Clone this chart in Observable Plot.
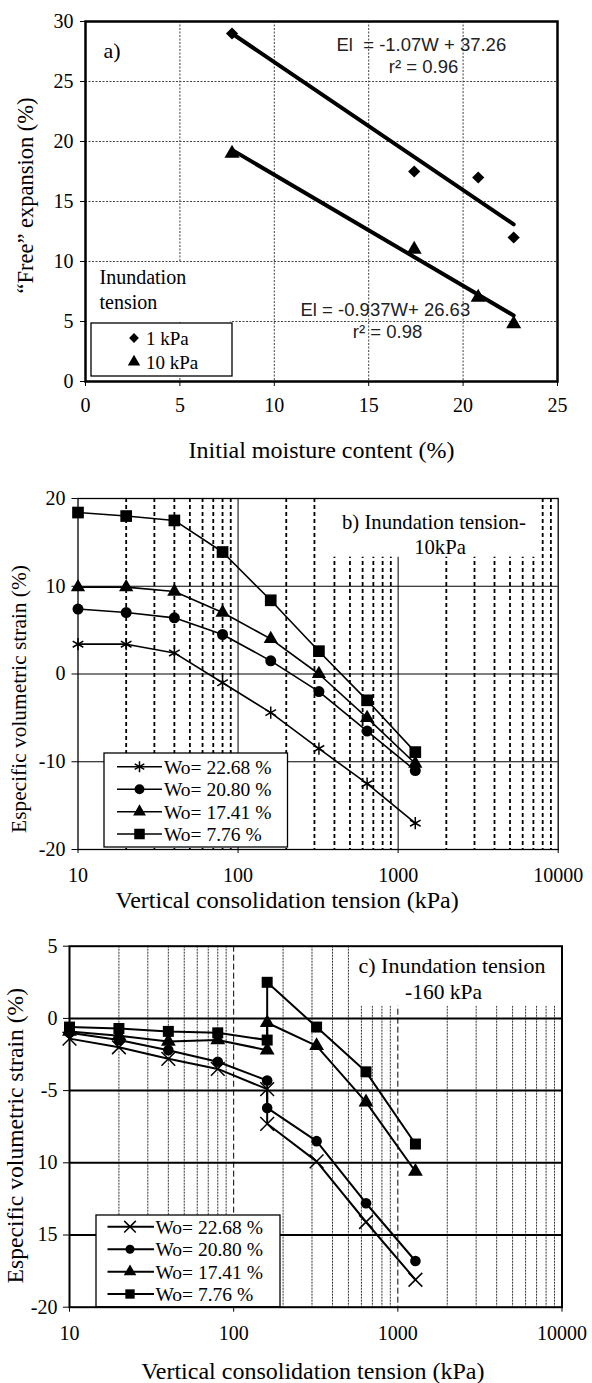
<!DOCTYPE html>
<html><head><meta charset="utf-8">
<script src="https://cdn.jsdelivr.net/npm/d3@7"></script>
<script src="https://cdn.jsdelivr.net/npm/@observablehq/plot@0.6"></script>
<style>
html,body{margin:0;padding:0;background:#fff;}
#chart{width:592px;}
#chart svg{display:block;font-family:'Liberation Serif','Times New Roman',serif;}
</style></head><body><div id="chart"></div>
<script>
// ---------- Panel a data ----------
const moisture = [7.76, 17.41, 20.80, 22.68];
const expansion1kPa = [29.0, 17.5, 17.0, 12.0];
const expansion10kPa = [19.0, 11.0, 7.0, 4.8];
const trendW = [7.76, 22.68];
const trend1kPa = [29.0, 13.1];
const trend10kPa = [19.3, 5.5];
const aXTicks = [0, 5, 10, 15, 20, 25];
const aYTicks = [0, 5, 10, 15, 20, 25, 30];
const aLegend = ["1 kPa", "10 kPa"];

// ---------- Panel b data ----------
const pressuresB = [10, 20, 40, 80, 160, 320, 640, 1280];
const b2268 = [3.4, 3.4, 2.4, -1.0, -4.4, -8.5, -12.5, -17.0];
const b2080 = [7.4, 7.0, 6.4, 4.5, 1.5, -2.0, -6.5, -11.0];
const b1741 = [9.9, 9.9, 9.4, 7.0, 4.0, 0.0, -5.0, -10.2];
const b776 = [18.4, 18.0, 17.5, 13.9, 8.4, 2.6, -3.0, -8.9];

// ---------- Panel c data ----------
const pressuresC = [10, 20, 40, 80, 160, 160, 320, 640, 1280];
const c2268 = [-1.4, -2.0, -2.8, -3.5, -4.9, -7.3, -9.9, -14.1, -18.1];
const c2080 = [-1.0, -1.5, -2.2, -3.0, -4.3, -6.2, -8.5, -12.8, -16.8];
const c1741 = [-0.9, -1.2, -1.6, -1.5, -2.2, -0.3, -1.9, -5.8, -10.6];
const c776 = [-0.6, -0.7, -0.9, -1.0, -1.5, 2.5, -0.6, -3.7, -8.7];

const seriesLabels = ["Wo= 22.68 %", "Wo= 20.80 %", "Wo= 17.41 %", "Wo= 7.76 %"];
const logTicks = [10, 100, 1000, 10000];
const logMajorGrid = [100, 1000];
const logMinorGrid = [20, 30, 40, 50, 60, 70, 80, 90, 200, 300, 400, 500, 600, 700, 800, 900,
  2000, 3000, 4000, 5000, 6000, 7000, 8000, 9000];
const bYTicks = [-20, -10, 0, 10, 20];
const bYGrid = [10, 0, -10];
const cYTicks = [5, 0, -5, -10, -15, -20];
const cYTickLabels = ["5", "0", "-5", "10", "15", "-20"];
const cYGrid = [0, -5, -10, -15];

// ---------- helpers ----------
const serif = "'Liberation Serif', 'Times New Roman', serif";
const sans = "'Liberation Sans', Arial, sans-serif";
const plotStyle = "font-family:'Liberation Serif','Times New Roman',serif;font-size:20px;background:#fff;color:#000;overflow:visible;";
const d3sym = {asterisk: d3.symbolAsterisk, times: d3.symbolTimes || d3.symbolX, circle: d3.symbolCircle,
  triangle: d3.symbolTriangle, square: d3.symbolSquare, diamond2: d3.symbolDiamond2};

// text placed relative to the frame's top-left corner
function note(str, dx, dy, o = {}) {
  return Plot.text([str], {frameAnchor: "top-left", dx, dy, lineAnchor: "middle",
    textAnchor: o.anchor || "start", fontSize: o.size || 20, fontFamily: o.font || serif, fill: o.fill || "#000"});
}
// white box relative to the frame's top-left corner
function whiteBox(x1, y1, x2, y2) {
  return (index, scales, values, dims) => d3.create("svg:rect")
    .attr("x", dims.marginLeft + x1).attr("y", dims.marginTop + y1)
    .attr("width", x2 - x1).attr("height", y2 - y1).attr("fill", "#fff").node();
}
function legendBox(box, items, o) {
  return (index, scales, values, dims) => {
    const g = d3.create("svg:g").attr("transform", `translate(${dims.marginLeft},${dims.marginTop})`);
    g.append("rect").attr("x", box[0]).attr("y", box[1]).attr("width", box[2] - box[0]).attr("height", box[3] - box[1])
      .attr("fill", "#fff").attr("stroke", "#000").attr("stroke-width", 1.3);
    items.forEach((it, i) => {
      const y = o.rows[i];
      if (o.line) g.append("line").attr("x1", o.line[0]).attr("x2", o.line[1]).attr("y1", y).attr("y2", y)
        .attr("stroke", "#000").attr("stroke-width", o.lw);
      g.append("path").attr("transform", `translate(${o.mx},${y})`)
        .attr("d", d3.symbol(d3sym[it.symbol], Math.PI * it.r * it.r)())
        .attr("fill", it.fill ? "#000" : "none").attr("stroke", it.fill ? "none" : "#000").attr("stroke-width", it.sw || 0);
      g.append("text").attr("x", o.tx).attr("y", y).attr("dy", "0.35em").attr("font-size", o.fs)
        .attr("text-anchor", "start").attr("font-family", serif).attr("fill", "#000").text(it.label);
    });
    return g.node();
  };
}
const rowsOf = (xs, ys) => xs.map((x, i) => ({x, y: ys[i]}));
const xLabel = (str, dx, dy, size) => Plot.text([str], {frameAnchor: "bottom", dx, dy, lineAnchor: "middle",
  textAnchor: "middle", fontSize: size, fontFamily: serif});
const yLabel = (str, dx, dy, size) => Plot.text([str], {frameAnchor: "left", dx, dy, rotate: -90, lineAnchor: "middle",
  textAnchor: "middle", fontSize: size, fontFamily: serif});

// ---------- Panel a ----------
const rows1 = rowsOf(moisture, expansion1kPa);
const rows10 = rowsOf(moisture, expansion10kPa);
const A = Plot.plot({
  width: 592, height: 468,
  marginLeft: 85, marginRight: 35, marginTop: 21, marginBottom: 87,
  style: plotStyle,
  x: {domain: [0, 25], axis: null, label: null},
  y: {domain: [0, 30], axis: null, label: null},
  marks: [
    Plot.gridX(aXTicks.slice(1, -1), {stroke: "#444", strokeOpacity: 1, strokeWidth: 1, strokeDasharray: "2,1.5"}),
    Plot.gridY(aYTicks.slice(1, -1), {stroke: "#444", strokeOpacity: 1, strokeWidth: 1, strokeDasharray: "2,1.5"}),
    whiteBox(1.5, 241, 145, 301),
    Plot.frame({stroke: "#000", strokeWidth: 2.5}),
    Plot.axisX(aXTicks, {tickSize: 5, tickPadding: 11.5, fontSize: 20, fontFamily: serif, label: null, tickFormat: d => String(d)}),
    Plot.axisY(aYTicks, {tickSize: 5, tickPadding: 7, fontSize: 20, fontFamily: serif, label: null, tickFormat: d => String(d)}),
    Plot.line(rowsOf(trendW, trend1kPa), {x: "x", y: "y", stroke: "#000", strokeWidth: 4}),
    Plot.line(rowsOf(trendW, trend10kPa), {x: "x", y: "y", stroke: "#000", strokeWidth: 4}),
    Plot.dot(rows1, {x: "x", y: "y", symbol: "diamond2", r: 5.5, fill: "#000", stroke: "none"}),
    Plot.dot(rows10, {x: "x", y: "y", symbol: "triangle", r: 5.6, fill: "#000", stroke: "none"}),
    note("a)", 18, 29, {size: 22}),
    note("El  = -1.07W + 37.26", 251, 24, {size: 18.5, font: sans, fill: "#222"}),
    note("r² = 0.96", 338, 46, {size: 18.5, font: sans, fill: "#222", anchor: "middle"}),
    note("El = -0.937W+ 26.63", 215, 289, {size: 18.5, font: sans, fill: "#222"}),
    note("r² = 0.98", 302, 311, {size: 18.5, font: sans, fill: "#222", anchor: "middle"}),
    note("Inundation", 14, 256),
    note("tension", 14, 281),
    legendBox([6, 302, 147, 355], [
      {symbol: "diamond2", r: 4.4, fill: true, label: aLegend[0]},
      {symbol: "triangle", r: 4.6, fill: true, label: aLegend[1]}
    ], {rows: [317, 341], mx: 49, tx: 61, fs: 19}),
    xLabel("Initial moisture content (%)", 0, 69, 24),
    yLabel("“Free” expansion (%)", -60, -6, 22.5)
  ]
});

// ---------- Panel b ----------
const bSeries = [
  {vals: b2268, symbol: "asterisk", r: 5.8, fill: false, sw: 1.5},
  {vals: b2080, symbol: "circle", r: 5.5, fill: true},
  {vals: b1741, symbol: "triangle", r: 5.3, fill: true},
  {vals: b776, symbol: "square", r: 6.6, fill: true}
];
const B = Plot.plot({
  width: 592, height: 457,
  marginLeft: 77.5, marginRight: 34.3, marginTop: 30, marginBottom: 76,
  style: plotStyle,
  x: {type: "log", domain: [10, 10000], axis: null, label: null},
  y: {domain: [-20, 20], axis: null, label: null},
  marks: [
    Plot.gridX(logMinorGrid, {stroke: "#000", strokeOpacity: 1, strokeWidth: 1.8, strokeDasharray: "4,3"}),
    Plot.gridX(logMajorGrid, {stroke: "#000", strokeOpacity: 1, strokeWidth: 1}),
    Plot.gridY(bYGrid, {stroke: "#000", strokeOpacity: 1, strokeWidth: 1.1}),
    whiteBox(244.5, 1, 459.5, 58.7),
    Plot.frame({stroke: "#000", strokeWidth: 1.3}),
    Plot.axisX(logTicks, {tickSize: 4, tickPadding: 14.5, fontSize: 20, fontFamily: serif, label: null, tickFormat: d => String(d)}),
    Plot.axisY(bYTicks, {tickSize: 6, tickPadding: 6.5, fontSize: 20, fontFamily: serif, label: null, tickFormat: d => String(d)}),
    ...bSeries.map(s => Plot.line(rowsOf(pressuresB, s.vals), {x: "x", y: "y", stroke: "#000", strokeWidth: 1.6})),
    ...bSeries.map(s => Plot.dot(rowsOf(pressuresB, s.vals), {x: "x", y: "y", symbol: s.symbol, r: s.r,
      fill: s.fill ? "#000" : "none", stroke: s.fill ? "none" : "#000", strokeWidth: s.sw || 0})),
    note("b) Inundation tension-", 264, 24, {size: 20.7}),
    note("10kPa", 362, 49, {anchor: "middle", size: 20.7}),
    legendBox([26.5, 255, 210, 349], bSeries.map((s, i) => ({...s, r: s.r * 0.9, label: seriesLabels[i]})),
      {rows: [268.7, 291.3, 313.7, 336], line: [39.5, 84.5], lw: 1.6, mx: 62, tx: 86.5, fs: 19.5}),
    xLabel("Vertical consolidation tension (kPa)", -31, 50.5, 24),
    yLabel("Especific volumetric strain (%)", -58.5, 25, 21.4)
  ]
});

// ---------- Panel c ----------
const cSeries = [
  {vals: c2268, symbol: "times", r: 6.3, fill: false, sw: 1.5},
  {vals: c2080, symbol: "circle", r: 5.3, fill: true},
  {vals: c1741, symbol: "triangle", r: 5.5, fill: true},
  {vals: c776, symbol: "square", r: 6.2, fill: true}
];
const C = Plot.plot({
  width: 592, height: 458,
  marginLeft: 69, marginRight: 30.5, marginTop: 20.7, marginBottom: 76.3,
  style: plotStyle,
  x: {type: "log", domain: [10, 10000], axis: null, label: null},
  y: {domain: [-20, 5], axis: null, label: null},
  marks: [
    Plot.gridX(logMinorGrid, {stroke: "#333", strokeOpacity: 1, strokeWidth: 1, strokeDasharray: "2,1"}),
    Plot.gridX(logMajorGrid, {stroke: "#000", strokeOpacity: 1, strokeWidth: 1, strokeDasharray: "6,3"}),
    Plot.gridY(cYGrid, {stroke: "#000", strokeOpacity: 1, strokeWidth: 2}),
    whiteBox(283, 1, 489, 60),
    Plot.frame({stroke: "#000", strokeWidth: 2}),
    Plot.axisX(logTicks, {tickSize: 5, tickPadding: 14, fontSize: 20, fontFamily: serif, label: null, tickFormat: d => String(d)}),
    Plot.axisY(cYTicks, {tickSize: 6, tickPadding: 6, fontSize: 20, fontFamily: serif, label: null,
      tickFormat: d => cYTickLabels[cYTicks.indexOf(d)]}),
    ...cSeries.map(s => Plot.line(rowsOf(pressuresC, s.vals), {x: "x", y: "y", stroke: "#000", strokeWidth: 2})),
    ...cSeries.map(s => Plot.dot(rowsOf(pressuresC, s.vals), {x: "x", y: "y", symbol: s.symbol, r: s.r,
      fill: s.fill ? "#000" : "none", stroke: s.fill ? "none" : "#000", strokeWidth: s.sw || 0})),
    note("c) Inundation tension", 289, 19.5, {size: 22}),
    note("-160 kPa", 374, 46, {anchor: "middle", size: 21.5}),
    legendBox([27, 269.3, 211, 361], cSeries.map((s, i) => ({...s, r: s.r * 0.85, label: seriesLabels[i]})),
      {rows: [281, 303.6, 326, 348.3], line: [38.5, 85], lw: 2, mx: 61, tx: 86.5, fs: 19.5}),
    xLabel("Vertical consolidation tension (kPa)", -3, 64.3, 24),
    yLabel("Especific volumetric strain (%)", -54, 9, 23.6)
  ]
});

const root = document.getElementById("chart");
root.append(A, B, C);
</script>
</body></html>
